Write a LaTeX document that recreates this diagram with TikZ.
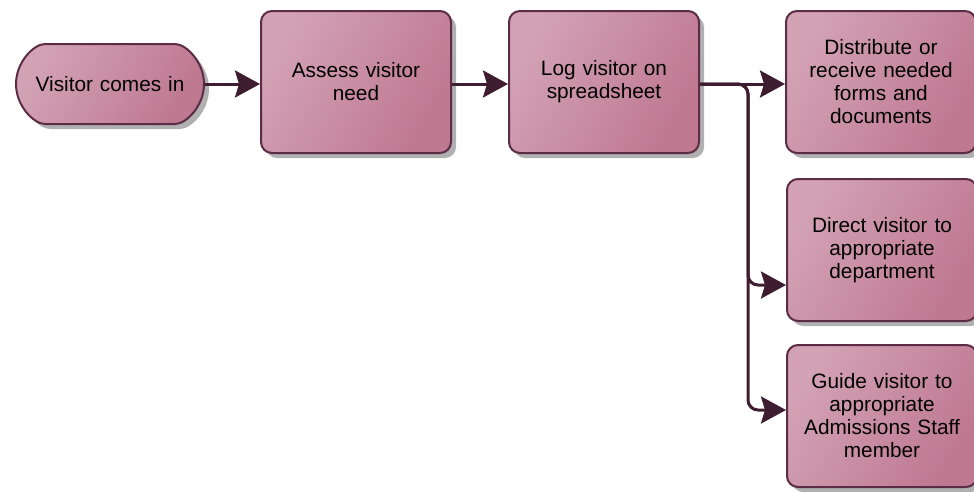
\documentclass[tikz,border=0pt]{standalone}
\usepackage{fontspec}
\setmainfont{Liberation Sans}
\usetikzlibrary{shapes.misc,arrows.meta,shadows,calc}
\definecolor{boxlight}{HTML}{D3A2B5}
\definecolor{boxdark}{HTML}{BE7890}
\definecolor{boxline}{HTML}{5C2C44}
\definecolor{arrcol}{HTML}{3E1D31}
\definecolor{shadowcol}{HTML}{B0B0B0}
\tikzset{
  proc/.style={rectangle, rounded corners=11pt, draw=boxline, line width=2pt,
    left color=boxlight, right color=boxdark, shading angle=60,
    minimum width=190pt, minimum height=142pt, inner sep=2pt,
    align=center, text width=180pt, text=black,
    font=\fontsize{20.8}{23}\selectfont,
    drop shadow={shadow xshift=5pt, shadow yshift=-5pt, fill=shadowcol, opacity=1}},
  term/.style={proc, rounded rectangle, minimum width=192pt, minimum height=80pt, text width=180pt},
  arr/.style={draw=arrcol, line width=3pt, -{Stealth[length=25pt,width=27pt,inset=4pt]}, fill=none},
}
\begin{document}
\begin{tikzpicture}[x=1pt,y=-1pt]
\useasboundingbox (0,0) rectangle (974,491);
\node[term] (v) at (110,84) {Visitor comes in};
\node[proc] (a) at (356,82) {Assess visitor\\need};
\node[proc] (l) at (604,82) {Log visitor on\\spreadsheet};
\node[proc] (d) at (881,82) {Distribute or\\receive needed\\forms and\\documents};
\node[proc] (dir) at (882,250) {Direct visitor to\\appropriate\\department};
\node[proc] (g) at (882,416) {Guide visitor to\\appropriate\\Admissions Staff\\member};
\coordinate (j) at (748,84);
\draw[arr] (v.east) -- (v.east -| a.west);
\draw[arr] (a.east |- v.east) -- (l.west |- v.east);
\draw[arr] (l.east |- v.east) -- (d.west |- v.east);
\draw[arr, rounded corners=10pt] (l.east |- v.east) -- (j) |- ([yshift=-35pt]dir.west);
\draw[arr, rounded corners=10pt] (l.east |- v.east) -- (j) |- ([yshift=6pt]g.west);
\end{tikzpicture}
\end{document}
